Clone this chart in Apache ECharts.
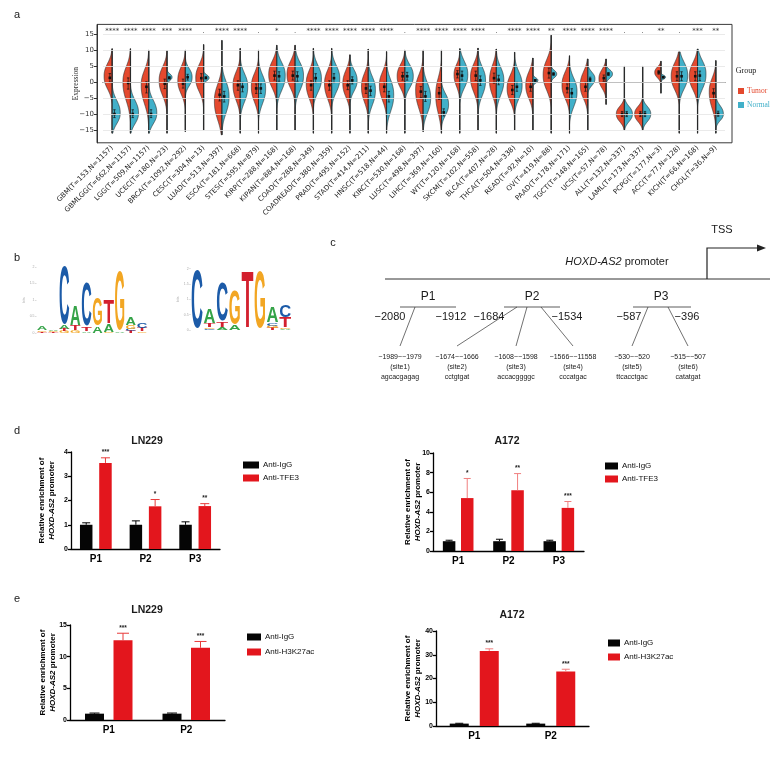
<!DOCTYPE html>
<html>
<head>
<meta charset="utf-8">
<script src="https://cdn.jsdelivr.net/npm/echarts@6/dist/echarts.min.js"></script>
<style>
  html, body { margin: 0; padding: 0; background: #fff; }
  #chart { width: 784px; height: 758px; }
</style>
</head>
<body>
<div id="chart"></div>
<script>
// ---- panel a: split violins, HOXD-AS2 expression per cancer type
const cancerTypes = ['GBM','GBMLGG','LGG','UCEC','BRCA','CESC','LUAD','ESCA','STES','KIRP','KIPAN','COAD','COADREAD','PRAD','STAD','HNSC','KIRC','LUSC','LIHC','WT','SKCM','BLCA','THCA','READ','OV','PAAD','TGCT','UCS','ALL','LAML','PCPG','ACC','KICH','CHOL']
const tumorCounts = [153,662,509,180,1092,304,513,181,595,288,884,288,380,495,414,518,530,498,369,120,102,407,504,92,419,178,148,57,132,173,177,77,66,36]
const normalCounts = [1157,1157,1157,23,292,13,397,668,879,168,168,349,359,152,211,44,168,397,160,168,558,28,338,10,88,171,165,78,337,337,3,128,168,9]
const sigLabels = ['****','****','****','***','****','.','****','****','.','*','.','****','****','****','****','****','.','****','****','****','****','.','****','****','**','****','****','****','.','.','**','.','***','**']

const violinTop = [10.4,10.4,10,9.8,10,11.7,13,10.5,10,11.5,11.5,10.5,10.5,8.5,10.3,9.5,10,10,10,10.4,10.6,10.3,9.3,7.5,14.6,8.2,7.2,7.2,4.9,4.9,6.5,9.4,10.3,6.7]
const violinBottom = [-16,-16,-16,-16,-15.5,-15,-16.5,-16,-16,-15,-15,-16,-16,-16,-16,-16,-16,-15.5,-16,-16,-15,-16,-15,-15,-16,-16,-15,-7,-15,-15,-3.5,-16,-16,-16]

const tumorMode = [1.8,0,-1,0.5,0.5,1.2,-6,-1,-1.5,2.3,2.3,-0.5,-0.5,-0.5,-1.5,-1,1.8,-2.5,-4,2.3,1.5,0.5,-2,-1,2.2,-1,-1,1,-10,-10,3,1.8,1.8,-3]
const tumorSdLow = [3.8,5.5,5.5,4.5,4,4,5.5,4.5,4.5,4,4,4.5,4.5,4,4.5,4.5,3.5,5.5,5.5,3.5,4.5,4.5,4,4,4.5,4,4,2.8,2.3,2.3,1.6,4,4,5]
const tumorSdHigh = [3.8,4.5,4.5,4,4,4,5,4,4,4,4,4,4,4,4,4,3.5,4.5,5,3,4,4.5,4,4,4.5,4,4,2.8,2.3,2.3,1.6,4,4,4]
const tumorWidth = [.88,.82,.82,.86,.82,.86,.82,.78,.78,.88,.88,.78,.78,.78,.74,.78,.84,.82,.62,.62,.82,.74,.82,.78,.88,.82,.82,.78,.88,.88,.68,.88,.9,.72]
const tumorMedian = [1.3,-0.3,-1.5,-0.5,-0.5,1.2,-4,-1,-2,2,2,-1,-1,-1,-2,-1.5,1.8,-3,-3.5,2.5,2,1.2,-2.5,-1.5,2.8,-2,-1.5,1.2,-10,-10,3,1.8,1.8,-3.5]

const normalMode = [-9.7,-9.7,-9.7,1.5,1.5,1.3,-4.5,-1.5,-2,2,2,1,1,0.5,-2.5,-4,1.8,-5,-7,2.3,0.5,0.5,-1,0.5,2.5,-3,1,2.5,-10,-10,1.5,2,2.5,-10]
const normalSdLow = [3.2,3.2,3.2,1,2.6,.9,5,4.5,4.5,4.5,4.5,4,4,3.2,4.5,5,3.5,4.5,3.2,4,4.5,4.5,4,.8,1.1,4.5,2,1.3,2.3,2.3,.6,4,4.5,2]
const normalSdHigh = [3.8,3.8,3.8,1,2.6,.9,4.5,4,4,4,4,4,4,3.2,4,4.5,3.5,4.5,3.2,4,4,4,4,.8,1.1,4,2,1.3,2.3,2.3,.6,4,4,2.5]
const normalWidth = [.88,.88,.88,.55,.74,.6,.78,.82,.78,.92,.92,.88,.88,.78,.78,.78,.92,.82,.78,.88,.82,.82,.82,.55,.6,.82,.78,.7,.88,.88,.5,.92,.92,.82]
const normalMedian = [-10,-10,-10,1.3,1.5,1.3,-4.5,-1.5,-2,1.8,1.8,1.2,1.2,0.5,-2.7,-4.5,1.8,-4.5,-9.5,2,0.5,0.7,-1.5,0.5,2.5,-3.5,0.8,2.5,-10,-10,1.5,1.8,2,-10]
const expressionTicks = [-15,-10,-5,0,5,10,15]

// ---- panel b: motif logos (letter, bits), bottom to top
const logo1Stacks = [
  [['T',0.04],['G',0.05],['A',0.12]],
  [['T',0.03],['G',0.03],['A',0.05]],
  [['G',0.06],['T',0.06],['A',0.1],['C',1.78]],
  [['G',0.08],['T',0.14],['A',0.6]],
  [['A',0.05],['T',0.13],['C',1.32]],
  [['A',0.2],['G',0.83]],
  [['G',0.03],['A',0.23],['T',0.74]],
  [['A',0.05],['G',1.82]],
  [['T',0.06],['C',0.06],['G',0.1],['A',0.22]],
  [['G',0.05],['T',0.11],['C',0.14]]
]
const logo2Stacks = [
  [['C',1.9]],
  [['C',0.04],['G',0.05],['T',0.11],['A',0.46]],
  [['A',0.08],['T',0.18],['C',1.25]],
  [['A',0.16],['G',1.14]],
  [['T',1.88]],
  [['G',1.88]],
  [['T',0.06],['G',0.07],['C',0.1],['A',0.52]],
  [['A',0.04],['G',0.05],['T',0.33],['C',0.4]]
]

// ---- panel c: promoter regions and predicted sites
const regionNames = ['P1','P2','P3']
const regionStart = ['\u22122080','\u22121684','\u2212587']
const regionEnd = ['\u22121912','\u22121534','\u2212396']
const siteRanges = ['\u22121989~\u22121979','\u22121674~\u22121666','\u22121608~\u22121598','\u22121566~\u221211558','\u2212530~\u2212520','\u2212515~\u2212507']
const siteNames = ['(site1)','(site2)','(site3)','(site4)','(site5)','(site6)']
const siteSeqs = ['agcacgagag','cctgtgat','accacggggc','cccatgac','ttcacctgac','catatgat']

// ---- panels d, e: ChIP-qPCR
const sites3 = ['P1','P2','P3']
const sites2 = ['P1','P2']
const ln229IgG = [1.0, 1.0, 1.0], ln229IgGErr = [0.08, 0.16, 0.12]
const ln229Tfe3 = [3.55, 1.76, 1.77], ln229Tfe3Err = [0.21, 0.28, 0.1]
const ln229Tfe3Sig = ['***','*','**']
const a172IgG = [1.0, 1.0, 1.0], a172IgGErr = [0.1, 0.2, 0.1]
const a172Tfe3 = [5.4, 6.2, 4.4], a172Tfe3Err = [2.0, 1.7, 0.65]
const a172Tfe3Sig = ['*','**','***']
const ln229IgG2 = [1.0, 1.0], ln229IgG2Err = [0.1, 0.1]
const ln229H3k27ac = [12.6, 11.4], ln229H3k27acErr = [1.1, 1.0]
const ln229H3k27acSig = ['***','***']
const a172IgG2 = [1.0, 1.0], a172IgG2Err = [0.15, 0.15]
const a172H3k27ac = [31.6, 22.9], a172H3k27acErr = [0.9, 1.0]
const a172H3k27acSig = ['***','***']

const sans = '"Liberation Sans", Arial, sans-serif'
const serif = '"Liberation Serif", "Times New Roman", serif'
const dejavu = '"DejaVu Sans", sans-serif'
const tumorColor = '#E4492E'
const normalColor = '#41B0C9'
const barRed = '#E3161D'
const logoColors = { A: '#35A348', C: '#1C5BA8', G: '#F2A623', T: '#D3202E' }
const glyphWidth = { A: 0.722, C: 0.722, G: 0.778, T: 0.611 }

const minus = (v) => String(v).replace('-', '\u2212')

function violinRender(side, mode, sdLow, sdHigh, width, median, color, extras) {
  return function (params, api) {
    const i = params.dataIndex
    const cx = api.coord([i, 0])[0]
    const hw = api.size([1, 0])[0] / 2
    const y = (v) => api.coord([i, v])[1]
    const lo = violinBottom[i], hi = violinTop[i]
    const pts = [[cx, y(lo)]]
    const steps = 100
    for (let k = 0; k <= steps; k++) {
      const v = lo + (hi - lo) * k / steps
      const d = Math.abs(v - mode[i]) / (v < mode[i] ? sdLow[i] : sdHigh[i])
      const w = Math.max(width[i] * Math.exp(-Math.pow(d, 2.4) / 2), 0.02)
      pts.push([cx + side * w * hw, y(v)])
    }
    pts.push([cx, y(hi)])
    const children = [{
      type: 'polygon', shape: { points: pts },
      style: { fill: color, stroke: '#2a2a2a', lineWidth: 0.6 }
    }]
    const mx = cx + side * 2.3
    const y1 = y(median[i] - 0.35 * sdLow[i]), y2 = y(median[i] + 0.35 * sdHigh[i])
    children.push({ type: 'line', shape: { x1: mx, y1: y1, x2: mx, y2: y2 }, style: { stroke: '#111', lineWidth: 0.7 } })
    children.push({ type: 'line', shape: { x1: mx - 1.2, y1: y1, x2: mx + 1.2, y2: y1 }, style: { stroke: '#111', lineWidth: 0.7 } })
    children.push({ type: 'line', shape: { x1: mx - 1.2, y1: y2, x2: mx + 1.2, y2: y2 }, style: { stroke: '#111', lineWidth: 0.7 } })
    children.push({ type: 'rect', shape: { x: mx - 1.3, y: y(median[i]) - 1.3, width: 2.6, height: 2.6 }, style: { fill: '#111' } })
    if (extras) {
      children.push({ type: 'line', shape: { x1: cx, y1: y(lo), x2: cx, y2: y(hi) }, style: { stroke: '#222', lineWidth: 0.7 } })
    } else {
      children.push({
        type: 'text', x: cx, y: y(16),
        style: { text: sigLabels[i], font: '7px ' + dejavu, fill: '#333', align: 'center', textAlign: 'center', verticalAlign: 'middle', textVerticalAlign: 'middle' }
      })
    }
    return { type: 'group', children }
  }
}

function logoRender(stacks) {
  return function (params, api) {
    const pos = api.value(0)
    const cx = api.coord([pos, 0])[0]
    const bw = api.size([1, 0])[0] * 0.95
    const F = 20
    const children = []
    let base = 0
    stacks[params.dataIndex].forEach(([letter, h]) => {
      const y0 = api.coord([pos, base])[1]
      const y1 = api.coord([pos, base + h])[1]
      const sy = (y0 - y1) / (0.716 * F)
      const sx = bw / (glyphWidth[letter] * F)
      children.push({
        type: 'text', x: cx, y: (y0 + y1) / 2 + 0.05 * F * sy, scaleX: sx, scaleY: sy,
        style: { text: letter, fill: logoColors[letter], font: 'bold ' + F + 'px ' + sans, align: 'center', textAlign: 'center', verticalAlign: 'middle', textVerticalAlign: 'middle' }
      })
      base += h
    })
    return { type: 'group', children }
  }
}

function errorSeries(axis, values, errors, offset, capHalf, color, stars) {
  return {
    type: 'custom', xAxisIndex: axis, yAxisIndex: axis, z: 5, silent: true,
    data: values.map((v, i) => [i, v, errors[i]]),
    renderItem: function (params, api) {
      const i = api.value(0), v = api.value(1), e = api.value(2)
      const base = api.coord([i, v]), top = api.coord([i, v + e])
      const x = base[0] + offset
      const children = [
        { type: 'line', shape: { x1: x, y1: base[1], x2: x, y2: top[1] }, style: { stroke: color, lineWidth: 1 } },
        { type: 'line', shape: { x1: x - capHalf, y1: top[1], x2: x + capHalf, y2: top[1] }, style: { stroke: color, lineWidth: 1 } }
      ]
      if (stars) {
        children.push({
          type: 'text', x: x, y: top[1] - 2,
          style: { text: stars[i], font: 'bold 6.5px ' + sans, fill: '#222', align: 'center', textAlign: 'center', verticalAlign: 'bottom', textVerticalAlign: 'bottom' }
        })
      }
      return { type: 'group', children }
    }
  }
}

function barXAxis(grid, data) {
  return {
    gridIndex: grid, type: 'category', data: data,
    axisLine: { lineStyle: { color: '#000', width: 1.3 } },
    axisTick: { alignWithLabel: true, length: 3, lineStyle: { color: '#000', width: 1.3 } },
    axisLabel: { fontFamily: sans, fontWeight: 'bold', fontSize: 10, color: '#000', margin: 5 }
  }
}
function barYAxis(grid, max, interval, gap) {
  return {
    gridIndex: grid, type: 'value', min: 0, max: max, interval: interval,
    axisLine: { show: true, lineStyle: { color: '#000', width: 1.3 } },
    axisTick: { show: true, length: 3, lineStyle: { color: '#000', width: 1.3 } },
    splitLine: { show: false },
    axisLabel: { fontFamily: sans, fontWeight: 'bold', fontSize: 7, color: '#000', margin: 3 },
    name: '{n|Relative enrichment of}\n{i|HOXD-AS2}{n| promoter}',
    nameLocation: 'middle', nameRotate: 90, nameGap: gap, nameMoveOverlap: false,
    nameTextStyle: {
      align: 'center', fontSize: 8, fontFamily: sans, fontWeight: 'bold', lineHeight: 10,
      rich: {
        n: { fontFamily: sans, fontWeight: 'bold', fontSize: 8, color: '#000', lineHeight: 10 },
        i: { fontFamily: sans, fontWeight: 'bold', fontStyle: 'italic', fontSize: 8, color: '#000', lineHeight: 10 }
      }
    }
  }
}
function barLegend(left, top, names, gap, w) {
  return {
    left: left, top: top, orient: 'vertical', data: names, selectedMode: false,
    icon: 'rect', itemWidth: w, itemHeight: 7, itemGap: gap,
    textStyle: { fontFamily: sans, fontSize: 8, color: '#111', padding: [0, 0, 0, -1] }
  }
}

const dBarW = 12.5, dGap = 0.54
const dOff = dBarW * (1 + dGap) / 2
const d2BarW = 12.5, d2Gap = 0.45
const d2Off = d2BarW * (1 + d2Gap) / 2
const eBarW = 19, eGap = 0.5
const eOff = eBarW * (1 + eGap) / 2
const e2BarW = 19, e2Gap = 0.58
const e2Off = e2BarW * (1 + e2Gap) / 2

function barPair(axis, names, igg, other, barW, gap) {
  return [
    { type: 'bar', name: names[0], xAxisIndex: axis, yAxisIndex: axis, data: igg, barWidth: barW, barGap: (gap * 100) + '%', itemStyle: { color: '#050505' } },
    { type: 'bar', name: names[1], xAxisIndex: axis, yAxisIndex: axis, data: other, barWidth: barW, barGap: (gap * 100) + '%', itemStyle: { color: barRed } }
  ]
}

// ---- panel c graphic pieces
const cFont = '11px ' + sans
const small = '7px ' + sans
const txt = (x, y, text, font, extra) => Object.assign({
  type: 'text', x: x, y: y,
  style: { text: text, font: font, fill: '#1a1a1a', align: 'center', textAlign: 'center', verticalAlign: 'middle', textVerticalAlign: 'middle' }
}, extra || {})
const seg = (x1, y1, x2, y2, w) => ({ type: 'line', shape: { x1, y1, x2, y2 }, style: { stroke: '#333', lineWidth: w || 0.8 } })

const regionLabelX = [428, 532, 661]
const regionBar = [[400, 456], [504, 560], [633, 691]]
const regionStartX = [390, 489, 629]
const regionEndX = [451, 567, 687]
const siteX = [400, 457, 516, 573, 632, 688]
const siteFrom = [415, 517, 527, 541, 648, 668]

const cElements = [
  seg(385, 279, 770, 279, 1),
  { type: 'polyline', shape: { points: [[707, 279], [707, 248], [758, 248]] }, style: { stroke: '#222', lineWidth: 1.2, fill: null } },
  { type: 'polygon', shape: { points: [[766, 248], [757, 244.5], [757, 251.5]] }, style: { fill: '#222' } },
  txt(722, 230, 'TSS', cFont),
  {
    type: 'text', x: 617, y: 262,
    style: {
      text: '{i|HOXD-AS2} promoter', font: cFont, fill: '#1a1a1a', align: 'center', textAlign: 'center', verticalAlign: 'middle', textVerticalAlign: 'middle',
      rich: { i: { font: 'italic ' + cFont, fill: '#1a1a1a' } }
    }
  }
]
regionNames.forEach((name, k) => {
  cElements.push(txt(regionLabelX[k], 297, name, '12px ' + sans))
  cElements.push(seg(regionBar[k][0], 307, regionBar[k][1], 307))
  cElements.push(txt(regionStartX[k], 316.5, regionStart[k], cFont))
  cElements.push(txt(regionEndX[k], 316.5, regionEnd[k], cFont))
})
siteRanges.forEach((r, k) => {
  cElements.push(seg(siteFrom[k], 307, siteX[k], 346, 0.7))
  cElements.push(txt(siteX[k], 357, r, small))
  cElements.push(txt(siteX[k], 367, siteNames[k], small))
  cElements.push(txt(siteX[k], 377, siteSeqs[k], small))
})

const panelLetters = [['a', 17, 15], ['b', 17, 258], ['c', 333, 243], ['d', 17, 431], ['e', 17, 599]]
const chartTitles = [['LN229', 147, 441], ['A172', 507, 441], ['LN229', 147, 610], ['A172', 512, 615]]

const graphicElements = cElements
  .concat(panelLetters.map(([t, x, y]) => txt(x, y, t, '11px ' + sans)))
  .concat(chartTitles.map(([t, x, y]) => txt(x, y, t, 'bold 10.5px ' + sans)))
  .concat([txt(746, 71, 'Group', '8px ' + serif, null)])

const chart = echarts.init(document.getElementById('chart'))
chart.setOption({
  animation: false,
  backgroundColor: '#fff',
  grid: [
    { left: 103, top: 24.4, width: 622, height: 118.4 },
    { left: 97, top: 24.4, width: 635, height: 118.4, show: true, borderColor: '#3a3a3a', borderWidth: 1, backgroundColor: 'transparent' },
    { left: 71, top: 452, width: 149, height: 97 },
    { left: 433, top: 453, width: 151, height: 98 },
    { left: 70, top: 625, width: 155, height: 95 },
    { left: 436, top: 631, width: 153, height: 95 },
    { left: 36.5, top: 267, width: 111, height: 66 },
    { left: 190.7, top: 268.6, width: 100.8, height: 61.4 }
  ],
  xAxis: [
    {
      gridIndex: 0, type: 'category',
      data: cancerTypes.map((c, i) => c + '(T=' + tumorCounts[i] + ',N=' + normalCounts[i] + ')'),
      axisLine: { lineStyle: { color: '#333', width: 1 } },
      axisTick: { alignWithLabel: true, length: 3, lineStyle: { color: '#333' } },
      axisLabel: { interval: 0, rotate: 45, fontFamily: dejavu, fontSize: 7, color: '#222', margin: 4 }
    },
    { gridIndex: 1, type: 'value', show: false },
    barXAxis(2, sites3),
    barXAxis(3, sites3),
    barXAxis(4, sites2),
    barXAxis(5, sites2),
    { gridIndex: 6, type: 'value', min: 0.5, max: 10.5, show: false },
    { gridIndex: 7, type: 'value', min: 0.5, max: 8.5, show: false }
  ],
  yAxis: [
    {
      gridIndex: 0, type: 'value', min: -19, max: 18, offset: 6,
      axisLine: { show: true, lineStyle: { color: '#333' } },
      axisTick: { show: true, length: 3, customValues: expressionTicks, lineStyle: { color: '#333' } },
      axisLabel: { customValues: expressionTicks, formatter: minus, fontFamily: dejavu, fontSize: 7, color: '#333', margin: 3 },
      splitLine: { show: false },
      name: 'Expression', nameLocation: 'middle', nameRotate: 90, nameGap: 17, nameMoveOverlap: false,
      nameTextStyle: { fontFamily: serif, fontSize: 7.5, color: '#333' }
    },
    { gridIndex: 1, type: 'value', show: false },
    barYAxis(2, 4, 1, 14),
    barYAxis(3, 10, 2, 10),
    barYAxis(4, 15, 5, 12),
    barYAxis(5, 40, 10, 13),
    {
      gridIndex: 6, type: 'value', min: 0, max: 2, interval: 0.5,
      axisLine: { show: false }, splitLine: { show: false },
      axisTick: { show: true, length: 1.5, lineStyle: { color: '#bbb', width: 0.5 } },
      axisLabel: { fontSize: 3.5, color: '#aaa', margin: 2 },
      name: 'bits', nameLocation: 'middle', nameGap: 9, nameTextStyle: { fontSize: 3.5, color: '#aaa' }
    },
    {
      gridIndex: 7, type: 'value', min: 0, max: 2, interval: 0.5,
      axisLine: { show: false }, splitLine: { show: false },
      axisTick: { show: true, length: 1.5, lineStyle: { color: '#bbb', width: 0.5 } },
      axisLabel: { fontSize: 3.5, color: '#aaa', margin: 2 },
      name: 'bits', nameLocation: 'middle', nameGap: 9, nameTextStyle: { fontSize: 3.5, color: '#aaa' }
    }
  ],
  legend: [
    {
      left: 733, top: 82, orient: 'vertical', selectedMode: false, icon: 'rect',
      itemWidth: 6, itemHeight: 6, itemGap: 6,
      data: [{ name: 'Tumor', textStyle: { color: tumorColor } }, { name: 'Normal', textStyle: { color: normalColor } }],
      textStyle: { fontFamily: serif, fontSize: 7.5, padding: [0, 0, 0, -2] }
    },
    barLegend(238, 456, ['Anti-IgG', 'Anti-TFE3'], 5, 16),
    barLegend(600, 457, ['Anti-IgG', 'Anti-TFE3'], 5, 13),
    barLegend(242, 628, ['Anti-IgG', 'Anti-H3K27ac'], 7, 14),
    barLegend(603, 634, ['Anti-IgG', 'Anti-H3K27ac'], 6, 12)
  ],
  series: [
    {
      type: 'line', xAxisIndex: 0, yAxisIndex: 0, data: [], z: 1, silent: true,
      markLine: {
        silent: true, symbol: ['none', 'none'], label: { show: false },
        lineStyle: { color: '#e4e4e4', width: 0.8, type: 'solid' },
        data: expressionTicks.map((v) => ({ yAxis: v }))
      }
    },
    {
      type: 'custom', name: 'Tumor', xAxisIndex: 0, yAxisIndex: 0, z: 3, silent: true,
      itemStyle: { color: tumorColor },
      data: cancerTypes.map((c, i) => [i]),
      renderItem: violinRender(-1, tumorMode, tumorSdLow, tumorSdHigh, tumorWidth, tumorMedian, tumorColor, false)
    },
    {
      type: 'custom', name: 'Normal', xAxisIndex: 0, yAxisIndex: 0, z: 3, silent: true,
      itemStyle: { color: normalColor },
      data: cancerTypes.map((c, i) => [i]),
      renderItem: violinRender(1, normalMode, normalSdLow, normalSdHigh, normalWidth, normalMedian, normalColor, true)
    },
    ...barPair(2, ['Anti-IgG', 'Anti-TFE3'], ln229IgG, ln229Tfe3, dBarW, dGap),
    errorSeries(2, ln229IgG, ln229IgGErr, -dOff, 4, '#000', null),
    errorSeries(2, ln229Tfe3, ln229Tfe3Err, dOff, 4.5, '#E83A3A', ln229Tfe3Sig),
    ...barPair(3, ['Anti-IgG', 'Anti-TFE3'], a172IgG, a172Tfe3, d2BarW, d2Gap),
    errorSeries(3, a172IgG, a172IgGErr, -d2Off, 3.5, '#000', null),
    errorSeries(3, a172Tfe3, a172Tfe3Err, d2Off, 3.5, '#F07F7F', a172Tfe3Sig),
    ...barPair(4, ['Anti-IgG', 'Anti-H3K27ac'], ln229IgG2, ln229H3k27ac, eBarW, eGap),
    errorSeries(4, ln229IgG2, ln229IgG2Err, -eOff, 5, '#000', null),
    errorSeries(4, ln229H3k27ac, ln229H3k27acErr, eOff, 6, '#E83A3A', ln229H3k27acSig),
    ...barPair(5, ['Anti-IgG', 'Anti-H3K27ac'], a172IgG2, a172H3k27ac, e2BarW, e2Gap),
    errorSeries(5, a172IgG2, a172IgG2Err, -e2Off, 4, '#000', null),
    errorSeries(5, a172H3k27ac, a172H3k27acErr, e2Off, 4, '#F07F7F', a172H3k27acSig),
    {
      type: 'custom', xAxisIndex: 6, yAxisIndex: 6, silent: true,
      data: logo1Stacks.map((s, i) => [i + 1]),
      renderItem: logoRender(logo1Stacks)
    },
    {
      type: 'custom', xAxisIndex: 7, yAxisIndex: 7, silent: true,
      data: logo2Stacks.map((s, i) => [i + 1]),
      renderItem: logoRender(logo2Stacks)
    }
  ],
  graphic: { elements: graphicElements }
})
</script>
</body>
</html>
